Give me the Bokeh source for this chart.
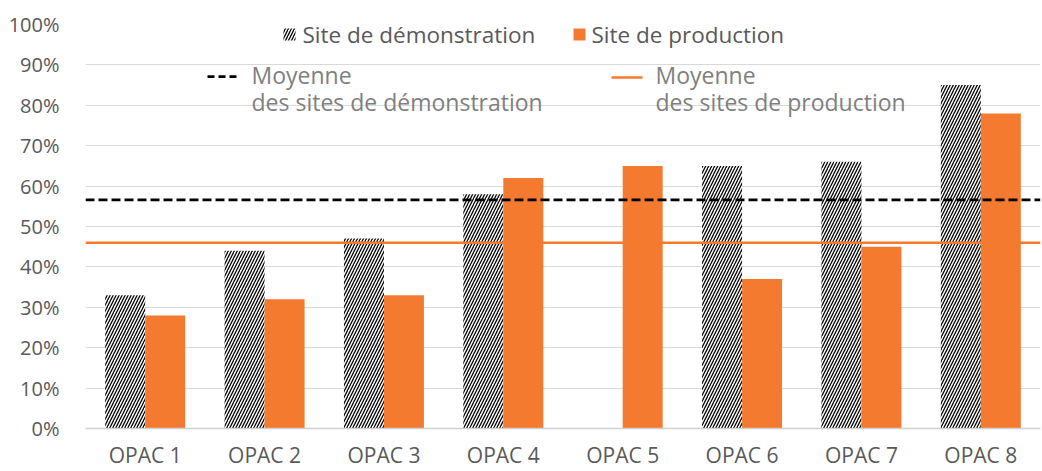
from bokeh.plotting import figure
from bokeh.models import (FactorRange, Range1d, FixedTicker, Span, Label,
                          BoxAnnotation, Arrow, ColumnDataSource)
from bokeh.transform import dodge
from bokeh.embed import file_html
from bokeh.resources import INLINE

# ---- data ----
categories = ["OPAC 1", "OPAC 2", "OPAC 3", "OPAC 4", "OPAC 5", "OPAC 6", "OPAC 7", "OPAC 8"]
demo_values = [33, 44, 47, 58, float("nan"), 65, 66, 85]
prod_values = [28, 32, 33, 62, 65, 37, 45, 78]
demo_mean = 56.6
prod_mean = 46.0
y_ticks = [0, 10, 20, 30, 40, 50, 60, 70, 80, 90, 100]
y_tick_labels = ["0%", "10%", "20%", "30%", "40%", "50%", "60%", "70%", "80%", "90%", "100%"]
legend_demo = "Site de démonstration"
legend_prod = "Site de production"
legend_demo_mean = ["Moyenne", "des sites de démonstration"]
legend_prod_mean = ["Moyenne", "des sites de production"]

ORANGE = "#F47A2F"
TEXT = "#595959"
TEXT_LIGHT = "#7f7f7f"
FONT = "Open Sans"

src = ColumnDataSource(dict(cat=categories, demo=demo_values, prod=prod_values))

p = figure(x_range=FactorRange(*categories), y_range=Range1d(0, 100),
           width=1042, height=471, output_backend="svg", toolbar_location=None,
           min_border_left=85, min_border_right=2, min_border_top=24, min_border_bottom=38)
p.outline_line_color = None
p.background_fill_color = "white"
p.border_fill_color = "white"

HATCH = dict(hatch_pattern="/", hatch_color="black", hatch_weight=1.3, hatch_scale=6)

bw = 0.335
p.vbar(x=dodge("cat", -bw / 2, range=p.x_range), top="demo", width=bw, source=src,
       fill_color="white", line_color=None, **HATCH)
p.vbar(x=dodge("cat", bw / 2, range=p.x_range), top="prod", width=bw, source=src,
       fill_color=ORANGE, line_color=None)

p.add_layout(Span(location=demo_mean, dimension="width", line_color="black",
                  line_width=2.75, line_dash="9 4"))
p.add_layout(Span(location=prod_mean, dimension="width", line_color=ORANGE,
                  line_width=2.5))

# axes
p.xaxis.axis_line_color = "#d0d0d0"
p.xaxis.axis_line_width = 1.5
p.xaxis.major_tick_line_color = None
p.xaxis.minor_tick_line_color = None
p.xaxis.major_label_text_font = FONT
p.xaxis.major_label_text_font_size = "21px"
p.xaxis.major_label_text_color = TEXT
p.xaxis.major_label_standoff = 6

p.yaxis.ticker = FixedTicker(ticks=y_ticks)
p.yaxis.major_label_overrides = {t: l for t, l in zip(y_ticks, y_tick_labels)}
p.yaxis.axis_line_color = None
p.yaxis.major_tick_line_color = None
p.yaxis.minor_tick_line_color = None
p.yaxis.major_label_text_font = FONT
p.yaxis.major_label_text_font_size = "20px"
p.yaxis.major_label_text_color = TEXT
p.yaxis.major_label_standoff = 20

p.xgrid.grid_line_color = None
p.ygrid.ticker = FixedTicker(ticks=y_ticks)
p.ygrid.grid_line_color = "#d9d9d9"
p.ygrid.grid_line_width = 1

# ---- legend (frame-relative screen units) ----
def lab(x, y, text, color, size):
    p.add_layout(Label(x=x, y=y, x_units="screen", y_units="screen", text=text,
                       text_font=FONT, text_font_size=size, text_color=color,
                       text_baseline="alphabetic", text_align="left"))

def box(l, r, b, t, **kw):
    p.add_layout(BoxAnnotation(left=l, right=r, bottom=b, top=t,
                               left_units="screen", right_units="screen",
                               bottom_units="screen", top_units="screen",
                               fill_alpha=1, line_color=None, **kw))

box(198, 210, 388, 400, fill_color="white", **HATCH)
lab(217, 394, legend_demo, TEXT, "22.5px")
box(488, 500, 388, 400, fill_color=ORANGE)
lab(506, 394, legend_prod, TEXT, "22.5px")

p.add_layout(Arrow(end=None, x_start=122, y_start=352, x_end=153, y_end=352,
                   start_units="screen", end_units="screen",
                   line_color="black", line_width=2.75, line_dash="7 4"))
lab(166, 354, legend_demo_mean[0], TEXT_LIGHT, "23px")
lab(166, 327, legend_demo_mean[1], TEXT_LIGHT, "23px")
p.add_layout(Arrow(end=None, x_start=526, y_start=351, x_end=557, y_end=351,
                   start_units="screen", end_units="screen",
                   line_color=ORANGE, line_width=2.5))
lab(570, 354, legend_prod_mean[0], TEXT_LIGHT, "23px")
lab(570, 327, legend_prod_mean[1], TEXT_LIGHT, "23px")

open("out.html", "w").write(file_html(p, INLINE))
